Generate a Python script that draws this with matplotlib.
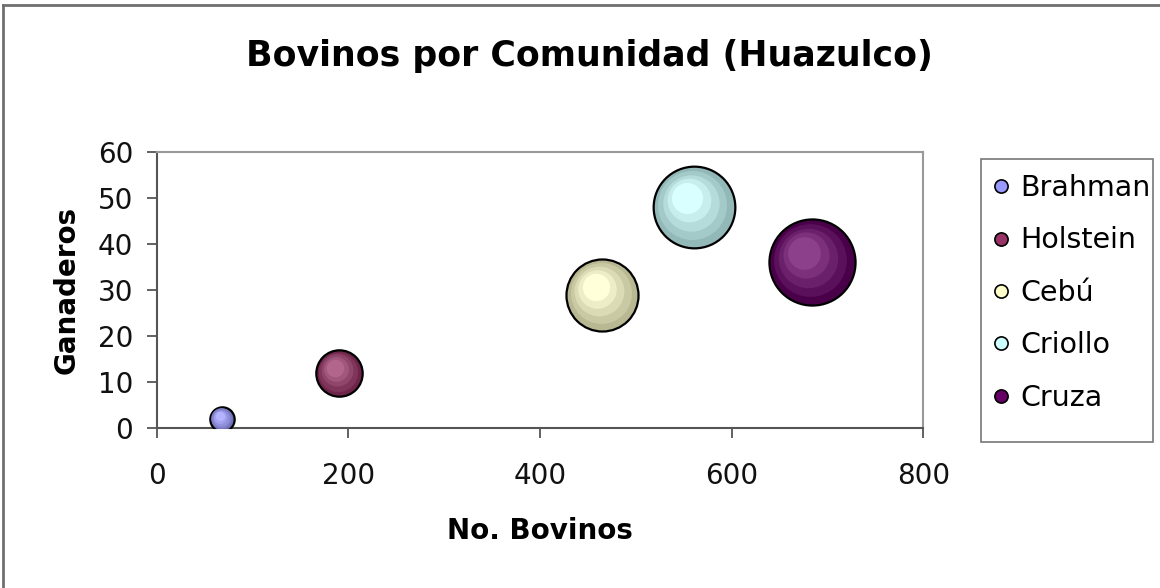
import numpy as np
import matplotlib
matplotlib.use("Agg")
import matplotlib.pyplot as plt
import matplotlib.colors as mcolors
from matplotlib.transforms import offset_copy
from matplotlib.lines import Line2D
from matplotlib.patches import Rectangle

razas = ["Brahman", "Holstein", "Cebú", "Criollo", "Cruza"]
bovinos = [68, 190, 465, 561, 684]
ganaderos = [2, 12, 29, 48, 36]
tamano = [8, 29, 70, 90, 100]
colores = ["#9999FF", "#993366", "#FFFFCC", "#CCFFFF", "#660066"]

x_ticks = [0, 200, 400, 600, 800]
y_ticks = [0, 10, 20, 30, 40, 50, 60]

W, H = 1160, 588
fig = plt.figure(figsize=(W / 100, H / 100), dpi=100)
ax = fig.add_axes([156.7 / W, 1 - 428.3 / H, 766.6 / W, 276.6 / H])

max_r = 31.0  # radius (pt) of the largest bubble
n_bandas = 5


def mezcla(c1, c2, t):
    a = np.array(mcolors.to_rgb(c1))
    b = np.array(mcolors.to_rgb(c2))
    return tuple(a + (b - a) * t)


for x, y, v, col in zip(bovinos, ganaderos, tamano, colores):
    r = max_r * np.sqrt(v / max(tamano))
    oscuro = tuple(np.array(mcolors.to_rgb(col)) * 0.72)
    claro = mezcla(col, "white", 0.25)
    for k in range(n_bandas):
        t = k / (n_bandas - 1)
        rk = r * (1 - 0.62 * t)
        tr = offset_copy(ax.transData, fig=fig, x=-0.18 * r * t, y=0.22 * r * t,
                         units="points")
        ax.scatter([x], [y], s=(2 * rk) ** 2, color=[mezcla(oscuro, claro, t)],
                   transform=tr, edgecolors="black",
                   linewidths=1.6 if k == 0 else 0, zorder=3 + k * 0.01)

ax.set_xlim(0, 800)
ax.set_ylim(0, 60)
ax.set_xticks(x_ticks)
ax.set_yticks(y_ticks)
ax.tick_params(axis="both", labelsize=20, length=7, width=1.3, color="#555555",
               labelcolor="#111111")
ax.tick_params(axis="x", pad=17)
ax.tick_params(axis="y", pad=10)
for lado in ["left", "bottom"]:
    ax.spines[lado].set_color("#555555")
    ax.spines[lado].set_linewidth(1.5)
for lado in ["top", "right"]:
    ax.spines[lado].set_color("#999999")
    ax.spines[lado].set_linewidth(1.5)

ax.set_xlabel("No. Bovinos", fontsize=20, fontweight="bold", labelpad=20)
ax.set_ylabel("Ganaderos", fontsize=20, fontweight="bold", labelpad=12)
fig.text(589 / W, 1 - 56 / H, "Bovinos por Comunidad (Huazulco)", fontsize=25,
         fontweight="bold", ha="center", va="center")

# legend
fig.add_artist(Rectangle((981 / W, 1 - 442 / H), 172 / W, 283 / H,
                         transform=fig.transFigure, fill=False,
                         edgecolor="#777777", lw=1.2))
handles = [Line2D([], [], marker="o", ls="none", markersize=9.5,
                  markerfacecolor=c, markeredgecolor="black",
                  markeredgewidth=1.2) for c in colores]
fig.legend(handles, razas, loc="upper left",
           bbox_to_anchor=(992 / W, 1 - 174 / H), frameon=False, fontsize=20.5,
           handlelength=0.6, handletextpad=0.4, labelspacing=0.86,
           borderaxespad=0, borderpad=0)

# outer chart frame (left and top only)
fig.add_artist(Line2D([3 / W, 3 / W], [0, 1 - 5 / H], transform=fig.transFigure,
                      color="#707070", lw=2))
fig.add_artist(Line2D([3 / W, 1], [1 - 5 / H, 1 - 5 / H],
                      transform=fig.transFigure, color="#707070", lw=2))

fig.savefig("out.png", dpi=100)
